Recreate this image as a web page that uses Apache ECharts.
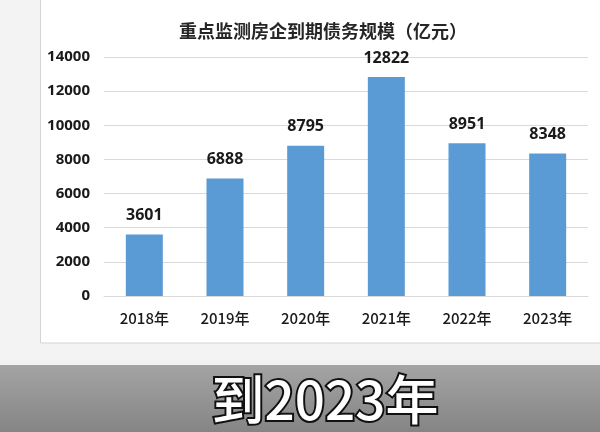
<!DOCTYPE html>
<html>
<head>
<meta charset="utf-8">
<style>
html,body{margin:0;padding:0;background:#f3f3f3;}
#c{width:600px;height:432px;}
</style>
<script src="https://cdn.jsdelivr.net/npm/echarts@6/dist/echarts.min.js"></script>
</head>
<body>
<div id="c"></div>
<script>
var categories = ['2018年','2019年','2020年','2021年','2022年','2023年'];
var debtValues = [3601, 6888, 8795, 12822, 8951, 8348];
var yTicks = [0, 2000, 4000, 6000, 8000, 10000, 12000, 14000];
var titleText = '重点监测房企到期债务规模（亿元）';
var captionText = '到2023年';

var chart = echarts.init(document.getElementById('c'), null, {renderer:'canvas'});
chart.setOption({
  backgroundColor: '#f3f3f3',
  animation: false,
  graphic: [
    {type:'rect', z:-10, shape:{x:40.5, y:-2, width:580, height:345}, style:{fill:'#ffffff', stroke:'#d4d4d4', lineWidth:1}},
    {type:'rect', z:-10, shape:{x:0, y:365, width:600, height:67},
      style:{fill:{type:'linear', x:0, y:0, x2:0, y2:1, colorStops:[{offset:0,color:'#a4a4a4'},{offset:1,color:'#858585'}]}}},
    {type:'text', z:10, x:325, y:400, style:{text:captionText, align:'center', verticalAlign:'middle', font:'500 53px "Noto Sans CJK SC", sans-serif', fill:'#ffffff', stroke:'#111111', lineWidth:4}}
  ],
  title: {
    text: titleText, left: 318, top: 17, textAlign: 'center',
    textStyle: {fontSize: 18, fontWeight: 'bold', color: '#262626', fontFamily: '"Noto Sans CJK SC", sans-serif'}
  },
  grid: {left: 104, right: 12, top: 57, bottom: 136},
  xAxis: {
    type: 'category', data: categories,
    axisLine: {show: true, lineStyle: {color: '#d9d9d9'}},
    axisTick: {show: false},
    axisLabel: {color: '#1a1a1a', fontSize: 15, fontWeight: 500, margin: 15, fontFamily: '"Noto Sans CJK SC", sans-serif'}
  },
  yAxis: {
    type: 'value', min: 0, max: 14000, interval: 2000,
    axisLine: {show: false}, axisTick: {show: false},
    splitLine: {lineStyle: {color: '#d9d9d9'}},
    axisLabel: {color: '#1a1a1a', fontSize: 15, fontWeight: 'bold', margin: 14, fontFamily: '"Open Sans", sans-serif',
      formatter: function(v){ return yTicks.indexOf(v) >= 0 ? String(v) : ''; }}
  },
  series: [{
    type: 'bar', data: debtValues, barWidth: 37,
    itemStyle: {color: '#5b9bd5'},
    label: {show: true, position: 'top', distance: 11, color: '#1a1a1a', fontSize: 16, fontWeight: 'bold', fontFamily: '"Open Sans", sans-serif'}
  }]
});
</script>
</body>
</html>
